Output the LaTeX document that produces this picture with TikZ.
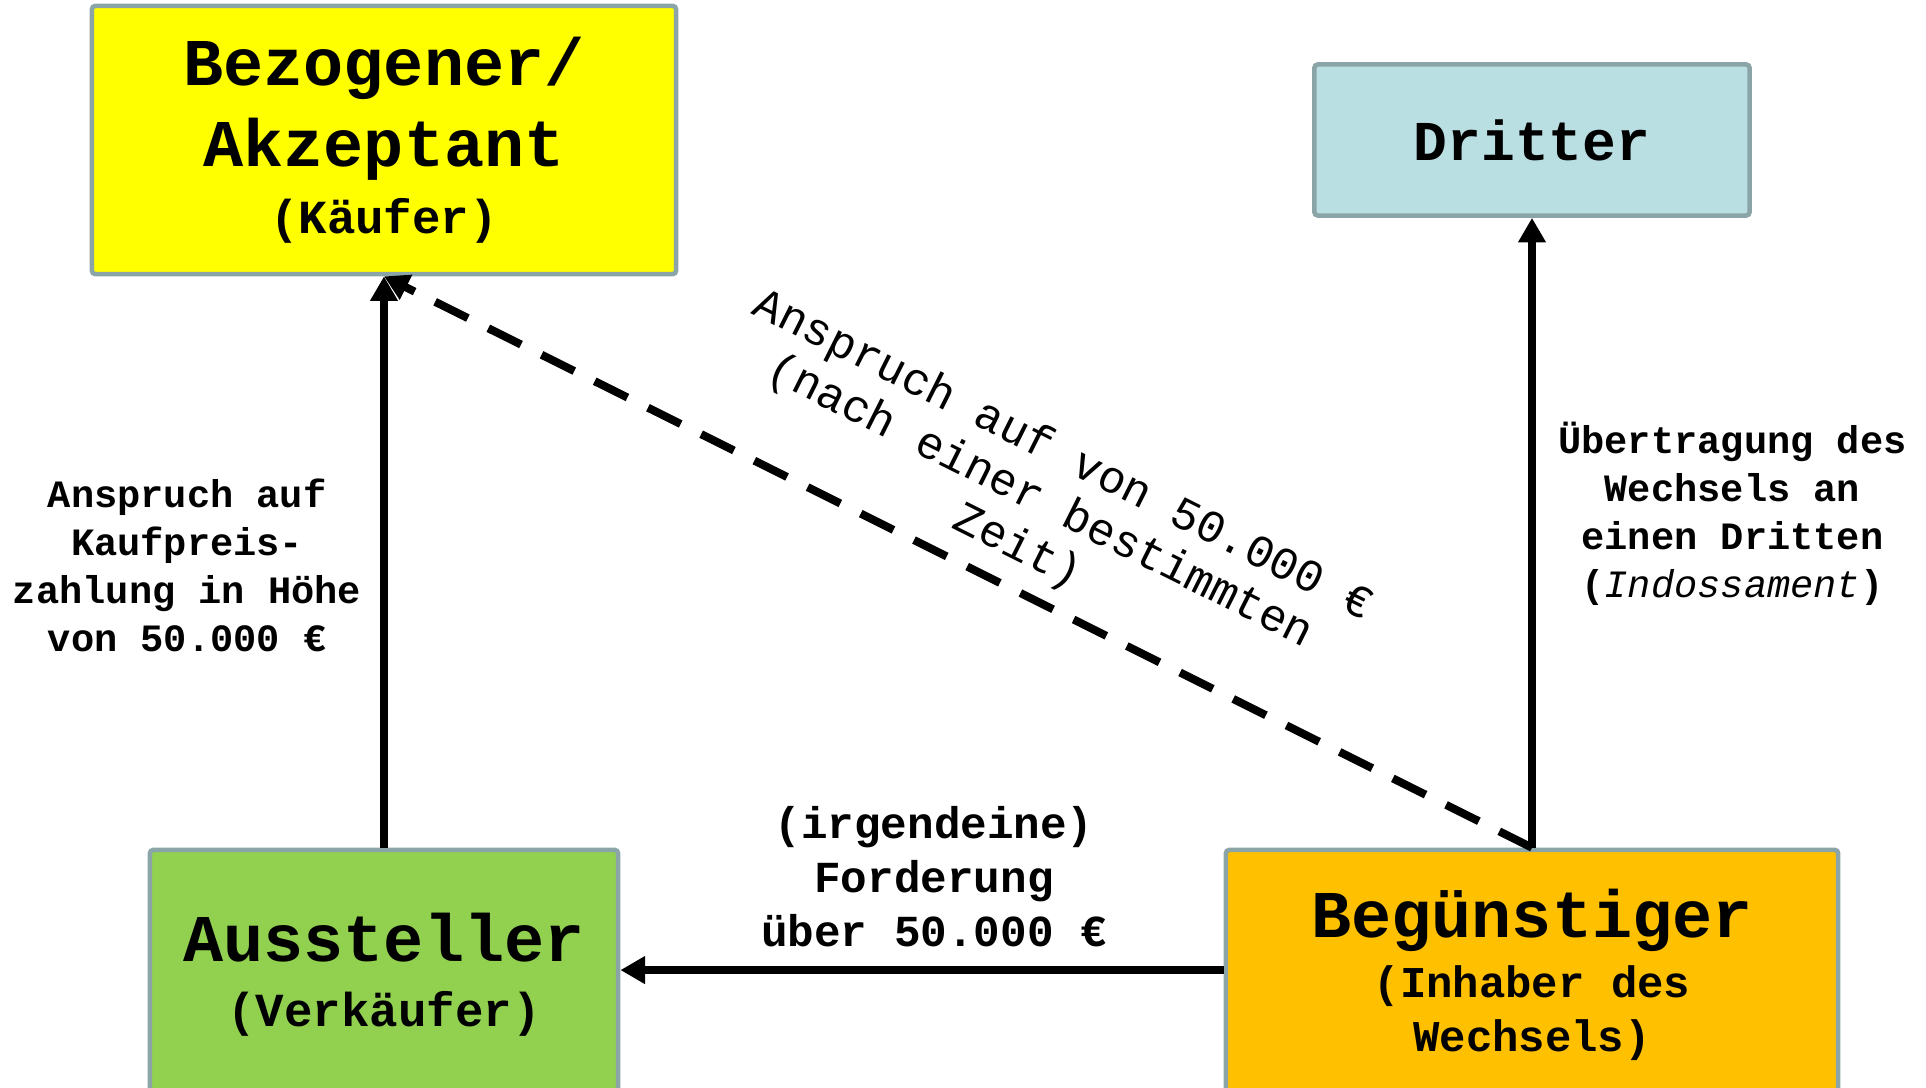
\documentclass[tikz,border=0pt]{standalone}
\usepackage{fontspec}
\setmainfont{Liberation Mono}
\usetikzlibrary{arrows.meta, positioning}

\definecolor{boxline}{HTML}{8BA4A8}
\definecolor{drawee}{HTML}{FFFF00}
\definecolor{third}{HTML}{BADFE3}
\definecolor{drawer}{HTML}{92D050}
\definecolor{payee}{HTML}{FFC000}

\begin{document}
\begin{tikzpicture}[
        x=0.01cm, y=-0.01cm,
        party/.style={draw=boxline, line width=1.3pt, rectangle, rounded corners=1pt, align=center, font=\bfseries\fontsize{19}{23}\selectfont},
        note/.style={align=center, font=\bfseries\fontsize{11}{13.7}\selectfont},
        arrow/.style={-{Triangle[length=7pt, width=7.5pt]}, line width=2.3pt}
    ]
        \useasboundingbox (0,0) rectangle (1926,1088);
        \clip (0,0) rectangle (1926,1088);

        \node[party, fill=drawee, minimum width=5.84cm, minimum height=2.68cm] (bezogener) at (384,140) {Bezogener/\\Akzeptant\\[-4pt]{\fontsize{13.5}{16}\selectfont (Käufer)}};
        \node[party, fill=third, minimum width=4.35cm, minimum height=1.51cm, font=\bfseries\fontsize{16}{19}\selectfont] (dritter) at (1532,140) {Dritter};
        \node[party, fill=drawer, minimum width=4.68cm, minimum height=2.5cm] (aussteller) at (384,975) {Aussteller\\[-4.5pt]{\fontsize{13.5}{16}\selectfont (Verkäufer)}};
        \node[party, fill=payee, minimum width=6.12cm, minimum height=2.5cm] (beguenstiger) at (1532,975) {Begünstiger\\[-6pt]{\fontsize{12.5}{15}\selectfont (Inhaber des}\\[-7.6pt]{\fontsize{12.5}{15}\selectfont Wechsels)}};

        \draw[arrow] (aussteller) -- node[note, midway, left=2pt, yshift=-1pt] {Anspruch auf\\Kaufpreis-\\zahlung in Höhe\\von 50.000 €} (bezogener);
        \draw[arrow, dash pattern=on 10.4pt off 6.5pt] (beguenstiger.north) -- (bezogener.south);
        \draw[arrow] (beguenstiger) -- node[note, pos=0.53, right=3pt] {Übertragung des\\Wechsels an\\einen Dritten\\(\textit{\mdseries Indossament})} (dritter);
        \draw[arrow] ([yshift=1.4pt]beguenstiger.west) -- node[note, pos=0.48, above=2pt, font=\bfseries\fontsize{12.6}{15.4}\selectfont] {(irgendeine)\\Forderung\\über 50.000 €} ([yshift=1.4pt]aussteller.east);

        \node[align=center, font=\fontsize{13}{14.5}\selectfont, rotate=-26.6] (anspruch) at (1040,502) {Anspruch auf von 50.000 €\\(nach einer bestimmten\\Zeit)};
    \end{tikzpicture}
\end{document}
